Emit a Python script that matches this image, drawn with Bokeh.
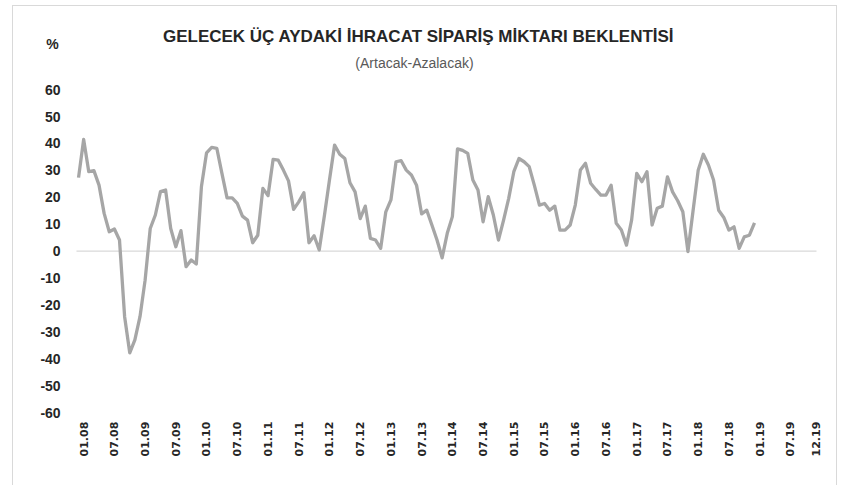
import math
from bokeh.plotting import figure
from bokeh.models import Range1d
from bokeh.embed import file_html
from bokeh.resources import INLINE

# monthly categories 01.08 .. 12.19
years = list(range(8, 20))
months = [f"{m:02d}.{y:02d}" for y in years for m in range(1, 13)]

# expectation balance (%), 01.08 .. 01.19
values = [
    27.3, 41.5, 29.5, 29.9, 24.5, 14.0, 7.2, 8.2, 4.1, -24.4, -37.8, -33.0,
    -24.4, -10.8, 8.4, 13.4, 22.1, 22.7, 8.4, 1.6, 7.6, -5.8, -3.3, -4.8,
    24.0, 36.5, 38.5, 38.2, 28.9, 19.8, 19.8, 17.7, 13.0, 11.5, 3.1, 5.9,
    23.3, 20.6, 34.1, 33.8, 30.1, 26.1, 15.5, 18.3, 21.7, 3.1, 5.7, 0.4,
    13.0, 26.4, 39.4, 36.0, 34.4, 25.4, 22.0, 12.1, 16.7, 4.7, 4.1, 1.0,
    14.6, 19.0, 33.2, 33.6, 30.1, 28.3, 24.5, 13.8, 15.2, 9.7, 4.1, -2.5,
    6.6, 12.8, 38.0, 37.4, 36.3, 26.4, 22.7, 10.9, 20.2, 13.4, 4.1, 11.5,
    19.6, 29.5, 34.4, 33.2, 31.4, 24.5, 17.1, 17.7, 15.2, 16.7, 7.8, 7.8,
    9.7, 17.1, 30.1, 32.6, 25.2, 22.9, 20.8, 20.8, 24.5, 10.3, 7.8, 2.2,
    11.5, 28.9, 25.8, 29.5, 9.7, 15.9, 16.7, 27.6, 22.0, 18.7, 14.6, -0.2,
    15.0, 30.0, 36.0, 32.0, 26.4, 15.2, 12.5, 7.8, 9.0, 1.0, 5.3, 5.9,
    10.5,
]

tick_labels = ["01.08", "07.08", "01.09", "07.09", "01.10", "07.10", "01.11",
               "07.11", "01.12", "07.12", "01.13", "07.13", "01.14", "07.14",
               "01.15", "07.15", "01.16", "07.16", "01.17", "07.17", "01.18",
               "07.18", "01.19", "07.19", "12.19"]
y_ticks = [60, 50, 40, 30, 20, 10, 0, -10, -20, -30, -40, -50, -60]

title_text = "GELECEK ÜÇ AYDAKİ İHRACAT SİPARİŞ MİKTARI BEKLENTİSİ"
subtitle_text = "(Artacak-Azalacak)"
unit_text = "%"

xs = list(range(len(values)))
tick_pos = [months.index(t) for t in tick_labels]

# category axis extent (half a category either side)
x_lo, x_hi = -0.4, len(months) + 0.1

p = figure(width=825, height=480,
           x_range=Range1d(-12.7, 148.4),
           y_range=Range1d(-87.5, 90.9),
           x_axis_type=None, y_axis_type=None, title=None,
           output_backend="svg", toolbar_location=None,
           min_border=0)
p.styles = {"border": "1px solid #d9d9d9", "border-bottom": "none",
            "margin-left": "12px", "margin-top": "5px"}
p.outline_line_color = None
p.xgrid.grid_line_color = None
p.ygrid.grid_line_color = None
p.background_fill_color = "white"
p.border_fill_color = "white"

# zero (category axis) line
p.line([x_lo, x_hi], [0, 0], line_color="#d9d9d9", line_width=1.3)

# data series
p.line(xs, values, line_color="#a6a6a6", line_width=3.3, line_join="round")

# y tick labels
p.text(x=[-3.5] * len(y_ticks), y=y_ticks, text=[str(v) for v in y_ticks],
       text_align="right", text_baseline="middle",
       text_font={"value": "Liberation Sans"}, text_font_style="bold",
       text_font_size="14px", text_color="#262626")

# x tick labels (rotated)
p.text(x=tick_pos, y=[-63.4] * len(tick_pos), text=tick_labels,
       angle=math.pi / 2, x_offset=5,
       text_align="right", text_baseline="middle",
       text_font={"value": "DejaVu Sans"}, text_font_style="bold",
       text_font_size="11px", text_color="#262626")

# titles
p.text(x=[66.4], y=[79.7], text=[title_text], text_align="center",
       text_baseline="middle", text_font={"value": "Liberation Sans"},
       text_font_style="bold", text_font_size="17px", text_color="#262626")
p.text(x=[65.6], y=[70.0], text=[subtitle_text], text_align="center",
       text_baseline="middle", text_font={"value": "Liberation Sans"},
       text_font_size="14px", text_color="#595959")
p.text(x=[-5.1], y=[77.1], text=[unit_text], text_align="center",
       text_baseline="middle", text_font={"value": "Liberation Sans"},
       text_font_style="bold", text_font_size="14px", text_color="#262626")

open("out.html", "w").write(file_html(p, INLINE))
